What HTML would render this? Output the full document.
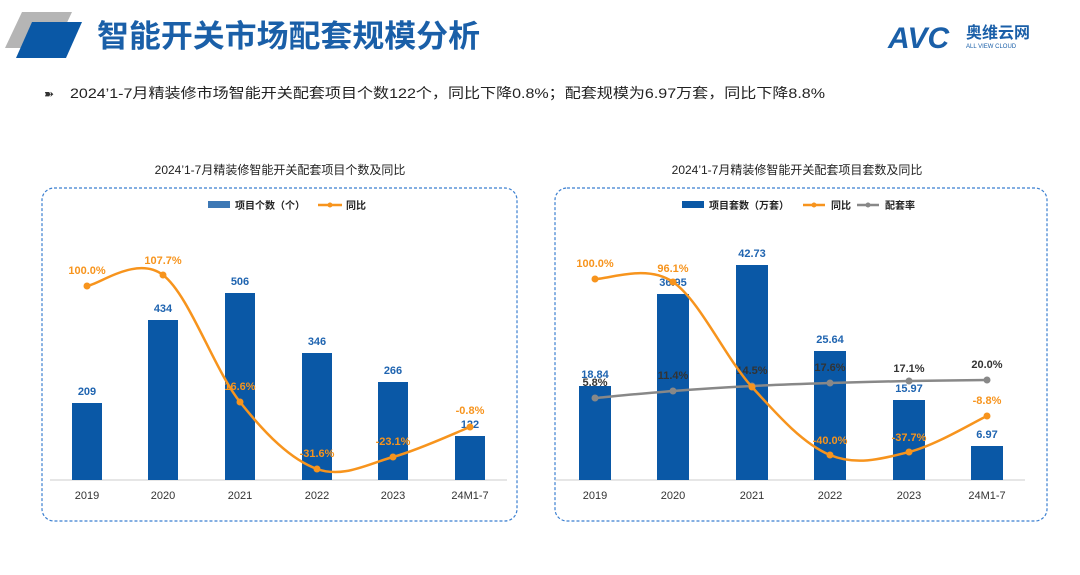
<!DOCTYPE html>
<html><head><meta charset="utf-8"><style>
body{margin:0;width:1080px;height:570px;background:#fff;overflow:hidden;font-family:"Liberation Sans","Noto Sans CJK SC",sans-serif;}
svg text{font-family:"Liberation Sans","Noto Sans CJK SC",sans-serif;}
</style></head><body>
<svg id="s" width="1080" height="570" xmlns="http://www.w3.org/2000/svg">
<polygon points="22,12 72,12 55,48 5,48" fill="#b5b5b5"/>
<polygon points="32,22 82,22 66,58 16,58" fill="#0a58a6"/>
<text x="97" y="47" font-size="31" font-weight="bold" fill="#1a5fa8" textLength="383" lengthAdjust="spacingAndGlyphs">智能开关市场配套规模分析</text>
<text x="888" y="48" font-size="30" font-weight="bold" font-style="italic" fill="#1a5fa8">AVC</text>
<text x="966" y="38" font-size="16" font-weight="bold" fill="#1a5fa8">奥维云网</text>
<text x="966" y="48" font-size="6" fill="#1a5fa8">ALL VIEW CLOUD</text>
<text x="44" y="98" font-size="12" fill="#333">➽</text>
<text x="70" y="98" font-size="14" fill="#222" textLength="755" lengthAdjust="spacingAndGlyphs">2024’1-7月精装修市场智能开关配套项目个数122个，同比下降0.8%；配套规模为6.97万套，同比下降8.8%</text>
<text x="280" y="174" font-size="12" fill="#222" text-anchor="middle">2024’1-7月精装修智能开关配套项目个数及同比</text>
<text x="797" y="174" font-size="12" fill="#222" text-anchor="middle">2024’1-7月精装修智能开关配套项目套数及同比</text>
<rect x="42" y="188" width="475" height="333" rx="12" fill="none" stroke="#3b7fd0" stroke-dasharray="3,2" stroke-width="1.2"/>
<rect x="555" y="188" width="492" height="333" rx="12" fill="none" stroke="#3b7fd0" stroke-dasharray="3,2" stroke-width="1.2"/>
<g font-size="10" font-weight="bold" fill="#222">
<rect x="208" y="201" width="22" height="7" fill="#3d78b5"/><text x="235" y="209">项目个数（个）</text>
<line x1="318" y1="205" x2="342" y2="205" stroke="#f7941d" stroke-width="2.5"/><circle cx="330" cy="205" r="2.5" fill="#f7941d"/><text x="346" y="209">同比</text>
<rect x="682" y="201" width="22" height="7" fill="#0a58a6"/><text x="709" y="209">项目套数（万套）</text>
<line x1="803" y1="205" x2="825" y2="205" stroke="#f7941d" stroke-width="2.5"/><circle cx="814" cy="205" r="2.5" fill="#f7941d"/><text x="831" y="209">同比</text>
<line x1="857" y1="205" x2="879" y2="205" stroke="#888" stroke-width="2.5"/><circle cx="868" cy="205" r="2.5" fill="#888"/><text x="885" y="209">配套率</text>
</g>
<line x1="50" y1="480" x2="507" y2="480" stroke="#ccc"/>
<line x1="555" y1="480" x2="1025" y2="480" stroke="#ccc"/>
<g id="g"></g>
</svg>
<script>
var g=document.getElementById('g'),h='';
function smooth(p){var d='M'+p[0][0]+','+p[0][1];for(var i=0;i<p.length-1;i++){var a=p[i-1]||p[i],b=p[i],c=p[i+1],e=p[i+2]||c;var t=0.17;d+=' C'+(b[0]+(c[0]-a[0])*t)+','+(b[1]+(c[1]-a[1])*t)+' '+(c[0]-(e[0]-b[0])*t)+','+(c[1]-(e[1]-b[1])*t)+' '+c[0]+','+c[1];}return d;}
function chart(cx,tops,blab,lines,bw){
 var yrs=['2019','2020','2021','2022','2023','24M1-7'];
 cx.forEach(function(x,i){h+='<rect x="'+(x-bw/2)+'" y="'+tops[i]+'" width="'+bw+'" height="'+(480-tops[i])+'" fill="#0a58a6"/>';
  h+='<text x="'+x+'" y="'+(tops[i]-8)+'" font-size="11" font-weight="bold" fill="#1f64b0" text-anchor="middle">'+blab[i]+'</text>';
  h+='<text x="'+x+'" y="499" font-size="11" fill="#333" text-anchor="middle">'+yrs[i]+'</text>';});
 lines.forEach(function(L){var p=cx.map(function(x,i){return [x,L.y[i]]});
  h+='<path d="'+smooth(p)+'" fill="none" stroke="'+L.c+'" stroke-width="2.5"/>';
  p.forEach(function(q,i){h+='<circle cx="'+q[0]+'" cy="'+q[1]+'" r="3.5" fill="'+L.c+'"/>';
   h+='<text x="'+q[0]+'" y="'+L.ly[i]+'" font-size="11" font-weight="bold" fill="'+L.tc+'" text-anchor="middle">'+L.l[i]+'</text>';});});
}
chart([87,163,240,317,393,470],[403,320,293,353,382,436],['209','434','506','346','266','122'],
 [{c:'#f7941d',tc:'#f7941d',y:[286,275,402,469,457,427],ly:[274,264,390,457,445,414],l:['100.0%','107.7%','16.6%','-31.6%','-23.1%','-0.8%']}],30);
chart([595,673,752,830,909,987],[386,294,265,351,400,446],['18.84','36.95','42.73','25.64','15.97','6.97'],
 [{c:'#888',tc:'#333',y:[398,391,386,383,381,380],ly:[386,379,374,371,372,368],l:['5.8%','11.4%','14.5%','17.6%','17.1%','20.0%']},
  {c:'#f7941d',tc:'#f7941d',y:[279,282,387,455,452,416],ly:[267,272,387,444,441,404],l:['100.0%','96.1%','','-40.0%','-37.7%','-8.8%']}],32);
g.innerHTML=h;
</script>
</body></html>
